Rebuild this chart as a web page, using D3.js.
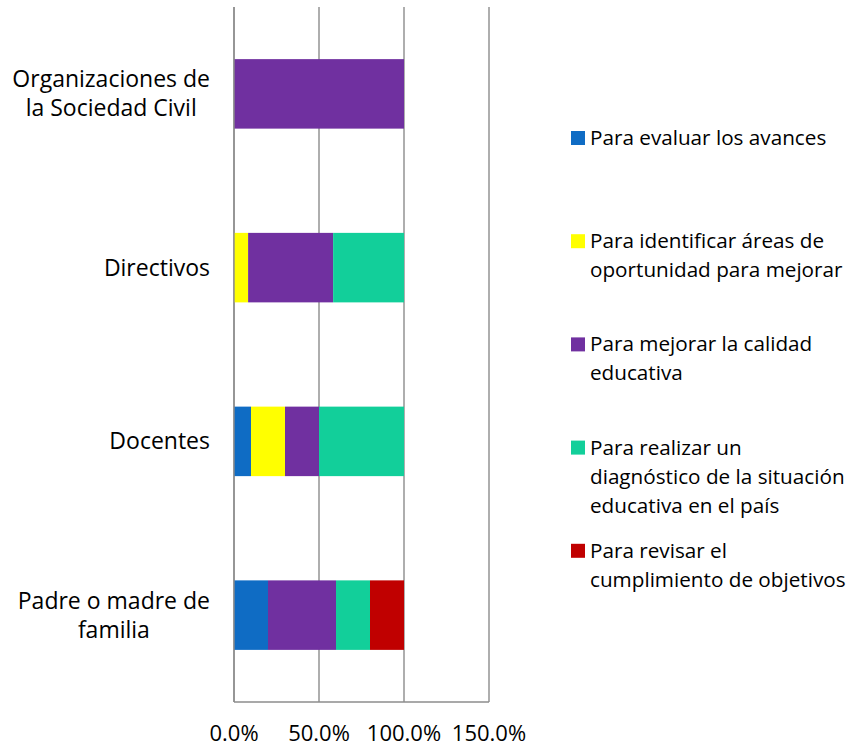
<!DOCTYPE html>
<html>
<head>
<meta charset="utf-8">
<script src="https://cdn.jsdelivr.net/npm/d3@7"></script>
<style>
  html, body { margin: 0; padding: 0; background: #fff; }
  svg { display: block; }
  text { font-family: "Open Sans", "Noto Sans", sans-serif; fill: #000; }
</style>
</head>
<body>
<svg id="chart" width="850" height="746"></svg>
<script>
// ---- data ----
const categories = ["Organizaciones de la Sociedad Civil", "Directivos", "Docentes", "Padre o madre de familia"];
const categoryLines = [["Organizaciones de", "la Sociedad Civil"], ["Directivos"], ["Docentes"], ["Padre o madre de", "familia"]];
const seriesNames = [
  "Para evaluar los avances",
  "Para identificar áreas de oportunidad para mejorar",
  "Para mejorar la calidad educativa",
  "Para realizar un diagnóstico de la situación educativa en el país",
  "Para revisar el cumplimiento de objetivos"
];
const seriesLines = [
  ["Para evaluar los avances"],
  ["Para identificar áreas de", "oportunidad para mejorar"],
  ["Para mejorar la calidad", "educativa"],
  ["Para realizar un", "diagnóstico de la situación", "educativa en el país"],
  ["Para revisar el", "cumplimiento de objetivos"]
];
const evaluar      = [0, 0, 10, 20];
const identificar  = [0, 8.3, 20, 0];
const mejorar      = [100, 50, 20, 40];
const diagnostico  = [0, 41.7, 50, 20];
const revisar      = [0, 0, 0, 20];
const tickValues = [0, 50, 100, 150];
const colors = ["#0f6cc4", "#ffff00", "#7030a0", "#12cf9a", "#c00000"];

// ---- build ----
const seriesValues = [evaluar, identificar, mejorar, diagnostico, revisar];
const table = categories.map((c, i) => {
  const row = { cat: c };
  seriesNames.forEach((s, j) => row[s] = seriesValues[j][i]);
  return row;
});
const stacked = d3.stack().keys(seriesNames)(table);

const svg = d3.select("#chart");
const x = d3.scaleLinear().domain([0, 150]).range([234, 489]);
const y = d3.scaleBand().domain(categories).range([7, 702]).paddingInner(0.6).paddingOuter(0.3);

// grid lines
svg.append("g").selectAll("line").data(tickValues).join("line")
  .attr("x1", d => x(d)).attr("x2", d => x(d))
  .attr("y1", 7).attr("y2", 702)
  .attr("stroke", "#8c8c8c").attr("stroke-width", 1.4);

// bottom axis line
svg.append("line")
  .attr("x1", x(0)).attr("x2", x(150)).attr("y1", 702).attr("y2", 702)
  .attr("stroke", "#8c8c8c").attr("stroke-width", 1.4);

// bars
svg.append("g").selectAll("g").data(stacked).join("g")
  .attr("fill", (d, i) => colors[i])
  .selectAll("rect").data(d => d.filter(p => p[1] - p[0] > 0)).join("rect")
  .attr("x", d => x(d[0]))
  .attr("width", d => x(d[1]) - x(d[0]))
  .attr("y", d => y(d.data.cat))
  .attr("height", y.bandwidth());

// left axis line on top
svg.append("line")
  .attr("x1", x(0)).attr("x2", x(0)).attr("y1", 7).attr("y2", 702)
  .attr("stroke", "#8c8c8c").attr("stroke-width", 1.4);

// tick labels
svg.append("g").selectAll("text").data(tickValues).join("text")
  .attr("x", d => x(d)).attr("y", 741)
  .attr("text-anchor", "middle")
  .style("font-size", "22px")
  .text(d => d.toFixed(1) + "%");

// category labels
const lineH = 29;
categories.forEach((c, i) => {
  const lines = categoryLines[i];
  const g = svg.append("g");
  const cy = y(c) + y.bandwidth() / 2;
  const texts = g.selectAll("text").data(lines).join("text")
    .style("font-size", "23px")
    .attr("text-anchor", "middle")
    .attr("y", (d, k) => cy + 8 + (k - (lines.length - 1) / 2) * lineH)
    .text(d => d);
  let maxW = 0;
  texts.each(function() { maxW = Math.max(maxW, this.getComputedTextLength()); });
  texts.attr("x", 210 - maxW / 2);
});

// legend
const legend = svg.append("g");
seriesNames.forEach((s, i) => {
  const base = 145 + i * 103.2;
  legend.append("rect")
    .attr("x", 571).attr("y", base - 14).attr("width", 14).attr("height", 14)
    .attr("fill", colors[i]);
  legend.append("g").selectAll("text").data(seriesLines[i]).join("text")
    .attr("x", 590).attr("y", (d, k) => base + k * 29)
    .style("font-size", "20.7px")
    .text(d => d);
});
</script>
</body>
</html>
